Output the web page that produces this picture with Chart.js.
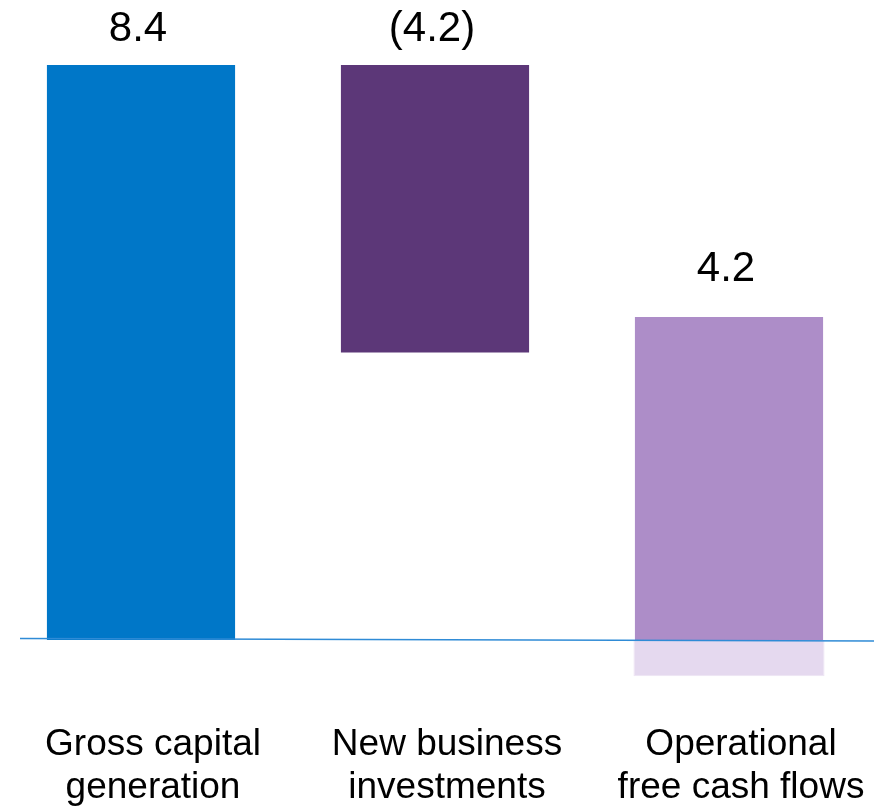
<!DOCTYPE html>
<html>
<head>
<meta charset="utf-8">
<script src="https://cdn.jsdelivr.net/npm/chart.js@4"></script>
<style>
  html, body { margin: 0; padding: 0; background: #fff; overflow: hidden; }
  #wrap { position: absolute; left: -6px; top: 0; width: 890px; height: 807px; }
</style>
</head>
<body>
<div id="wrap"><canvas id="myChart"></canvas></div>
<script>
// waterfall: gross -> new business -> operational FCF
var categories = [['Gross capital', 'generation'], ['New business', 'investments'], ['Operational', 'free cash flows']];
var barStart = [0, 4.2, 0];
var barEnd = [8.4, 8.4, 4.72];
var belowZero = [null, null, -0.53];
var valueLabels = ['8.4', '(4.2)', '4.2'];
var barColors = ['#0077C8', '#5C3778', '#AD8DC8'];

var floating = barStart.map(function (s, i) { return [s, barEnd[i]]; });
var under = belowZero.map(function (v) { return v === null ? null : [v, 0]; });

const valueLabelPlugin = {
    id: 'valueLabels',
    afterDatasetsDraw: function (chart, args, opts) {
        var ctx = chart.ctx;
        var meta = chart.getDatasetMeta(0);
        var y = chart.scales.y;
        var zero = y.getPixelForValue(0);
        // baseline, a little slanted like the original
        ctx.save();
        ctx.strokeStyle = '#2F8BD6';
        ctx.lineWidth = 1.5;
        ctx.beginPath();
        ctx.moveTo(26, zero - 1.5);
        ctx.lineTo(880, zero + 1);
        ctx.stroke();

        ctx.fillStyle = '#000';
        ctx.font = '42px "Liberation Sans", Arial, sans-serif';
        ctx.textAlign = 'center';
        ctx.textBaseline = 'middle';
        meta.data.forEach(function (bar, i) {
            ctx.fillText(valueLabels[i], bar.x - 3, y.getPixelForValue(barEnd[i]) - opts.offsets[i]);
        });
        ctx.restore();
    }
};

new Chart('myChart', {
    type: 'bar',
    data: {
        labels: categories,
        datasets: [{
            data: floating,
            backgroundColor: barColors,
            barPercentage: 0.64,
            categoryPercentage: 1
        }, {
            data: under,
            backgroundColor: '#E5D9EF',
            borderColor: '#EDE4F3',
            borderWidth: 1,
            barPercentage: 0.65,
            categoryPercentage: 1
        }]
    },
    options: {
        responsive: true,
        maintainAspectRatio: false,
        animation: false,
        layout: { padding: { top: 24, left: 0, right: 8, bottom: -28 } },
        datasets: { bar: { grouped: false } },
        plugins: {
            legend: { display: false },
            tooltip: { enabled: false },
            valueLabels: { offsets: [36, 36, 47] }
        },
        scales: {
            x: {
                grid: { display: false },
                border: { display: false },
                ticks: {
                    color: '#000',
                    padding: 26,
                    labelOffset: 12,
                    maxRotation: 0,
                    font: { size: 37, family: '"Liberation Sans", Arial, sans-serif', lineHeight: 1.15 }
                }
            },
            y: {
                display: false,
                min: -0.73,
                max: 9
            }
        }
    },
    plugins: [valueLabelPlugin]
});
</script>
</body>
</html>
